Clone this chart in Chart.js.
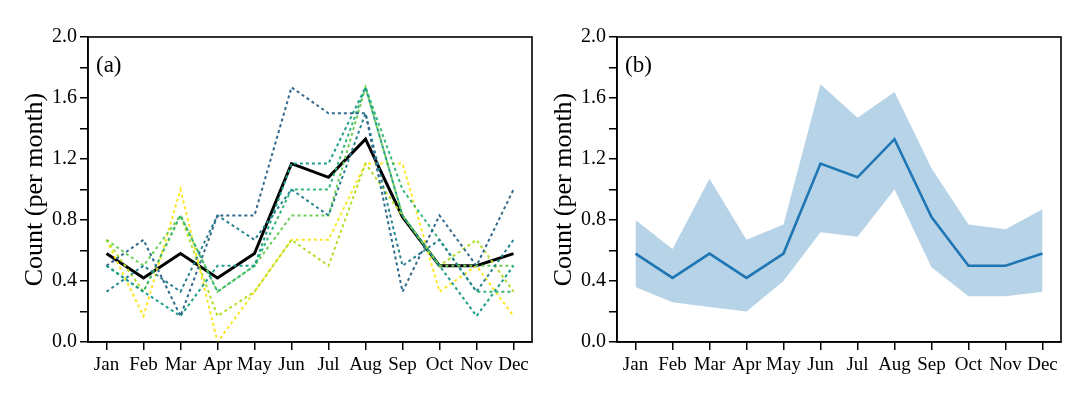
<!DOCTYPE html>
<html><head><meta charset="utf-8">
<script src="https://cdn.jsdelivr.net/npm/chart.js@4.4.0/dist/chart.umd.min.js"></script>
<style>
html,body{margin:0;padding:0;background:#fff;width:1082px;height:397px;overflow:hidden}
.wrap{position:absolute;top:0;height:397px}
#w1{left:0;width:540px}
#w2{left:529px;width:553px}
.lab{position:absolute;font-family:'Liberation Serif','Times New Roman',serif;font-size:23px;line-height:1;color:#000}
</style></head><body>
<div class="wrap" id="w1"><canvas id="c1" width="540" height="397"></canvas></div>
<div class="wrap" id="w2"><canvas id="c2" width="553" height="397"></canvas></div>
<div class="lab" style="left:96px;top:53px">(a)</div>
<div class="lab" style="left:625px;top:53px">(b)</div>
<script>
const months = ['Jan','Feb','Mar','Apr','May','Jun','Jul','Aug','Sep','Oct','Nov','Dec'];
const yTicks = [0.0, 0.4, 0.8, 1.2, 1.6, 2.0];

// individual series (panel a, dashed)
const seriesA = [0.50, 0.67, 0.17, 0.83, 0.83, 1.67, 1.50, 1.50, 0.33, 0.83, 0.50, 1.00];
const seriesB = [0.33, 0.50, 0.33, 0.83, 0.67, 1.00, 0.83, 1.50, 0.50, 0.67, 0.33, 0.67];
const seriesC = [0.50, 0.33, 0.17, 0.50, 0.50, 1.17, 1.17, 1.67, 0.83, 0.50, 0.17, 0.50];
const seriesD = [0.50, 0.33, 0.83, 0.33, 0.50, 1.00, 1.00, 1.67, 1.00, 0.67, 0.33, 0.33];
const seriesE = [0.67, 0.50, 0.83, 0.33, 0.50, 0.83, 0.83, 1.67, 0.83, 0.50, 0.50, 0.50];
const seriesF = [0.67, 0.33, 0.83, 0.17, 0.33, 0.67, 0.50, 1.17, 0.83, 0.50, 0.67, 0.33];
const seriesG = [0.67, 0.17, 1.00, 0.00, 0.33, 0.67, 0.67, 1.17, 1.17, 0.33, 0.50, 0.17];
const seriesColors = ['#31688e','#26828e','#1f9e89','#35b779','#6ece58','#b5de2b','#fde725'];

// mean and spread
const meanValues = [0.58, 0.42, 0.58, 0.42, 0.58, 1.17, 1.08, 1.33, 0.82, 0.50, 0.50, 0.58];
const upperValues = [0.80, 0.61, 1.07, 0.67, 0.77, 1.69, 1.47, 1.64, 1.14, 0.77, 0.74, 0.87];
const lowerValues = [0.36, 0.26, 0.23, 0.20, 0.40, 0.72, 0.69, 1.00, 0.49, 0.30, 0.30, 0.33];

const FONT = "'Liberation Serif','Times New Roman',serif";

const boxPlugin = {
  id: 'box',
  afterDraw(chart) {
    const a = chart.chartArea, ctx = chart.ctx;
    ctx.save();
    ctx.strokeStyle = '#000';
    ctx.lineWidth = 1.6;
    ctx.strokeRect(a.left, a.top, a.right - a.left, a.bottom - a.top);
    ctx.restore();
  }
};

function scales() {
  return {
    x: {
      type: 'category',
      offset: true,
      grid: { offset: false, drawOnChartArea: false, drawTicks: true, tickLength: 8, color: '#000', lineWidth: 1.5 },
      border: { display: true, color: '#000', width: 1.6 },
      ticks: { color: '#000', font: { family: FONT, size: 19 }, padding: 4, maxRotation: 0, autoSkip: false },
      afterFit(s) { s.height = 55; }
    },
    y: {
      min: 0, max: 2,
      grid: { drawOnChartArea: false, drawTicks: true, tickLength: 8, color: '#000', lineWidth: 1.5 },
      border: { display: true, color: '#000', width: 1.6 },
      ticks: {
        stepSize: 0.2, color: '#000', font: { family: FONT, size: 20 }, padding: 3,
        callback(v) {
          const t = yTicks.find(y => Math.abs(y - v) < 1e-6);
          return t === undefined ? '' : t.toFixed(1);
        }
      },
      title: { display: true, text: 'Count (per month)', color: '#000', font: { family: FONT, size: 26 }, padding: { top: 20, bottom: 0 } },
      afterFit(s) { s.width = 88; }
    }
  };
}

const dashed = [seriesA, seriesB, seriesC, seriesD, seriesE, seriesF, seriesG].map((d, i) => ({
  data: d, borderColor: seriesColors[i], borderWidth: 2, borderDash: [3, 3],
  pointRadius: 0, tension: 0, fill: false
}));
dashed.push({ data: meanValues, borderColor: '#000', borderWidth: 3, pointRadius: 0, tension: 0, fill: false });

const common = {
  responsive: false, animation: false,
  plugins: { legend: { display: false }, tooltip: { enabled: false } },
  elements: { line: { borderJoinStyle: 'miter' } }
};

new Chart(document.getElementById('c1'), {
  type: 'line',
  data: { labels: months, datasets: dashed },
  options: Object.assign({}, common, { layout: { padding: { top: 37, right: 8, left: 0, bottom: 0 } }, scales: scales() }),
  plugins: [boxPlugin]
});

new Chart(document.getElementById('c2'), {
  type: 'line',
  data: { labels: months, datasets: [
    { data: upperValues, borderWidth: 0, borderColor: 'rgba(0,0,0,0)', backgroundColor: 'rgba(31,119,180,0.32)', pointRadius: 0, tension: 0, fill: '+1' },
    { data: lowerValues, borderWidth: 0, borderColor: 'rgba(0,0,0,0)', pointRadius: 0, tension: 0, fill: false },
    { data: meanValues, borderColor: '#1f77b4', borderWidth: 2.6, pointRadius: 0, tension: 0, fill: false }
  ]},
  options: Object.assign({}, common, { layout: { padding: { top: 37, right: 21, left: 0, bottom: 0 } }, scales: scales() }),
  plugins: [boxPlugin]
});
</script>
</body></html>
